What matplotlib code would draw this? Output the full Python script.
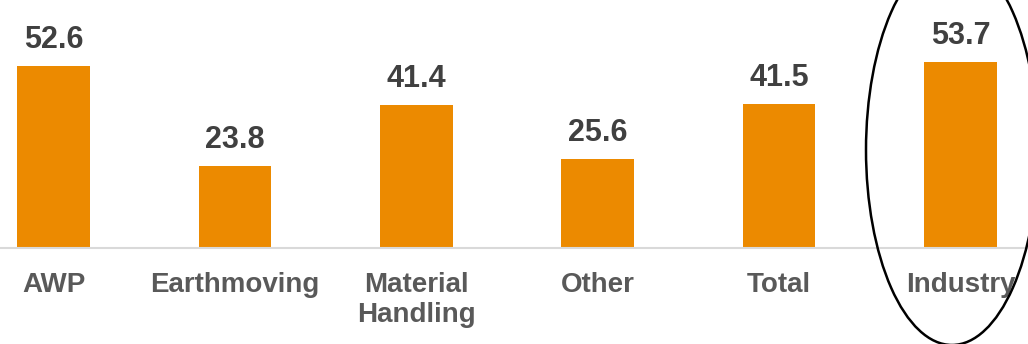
import matplotlib
matplotlib.use("Agg")
import matplotlib.pyplot as plt
from matplotlib.patches import Ellipse

categories = ["AWP", "Earthmoving", "Material\nHandling", "Other", "Total", "Industry"]
values = [52.6, 23.8, 41.4, 25.6, 41.5, 53.7]

plt.rcParams["font.family"] = ["Liberation Sans", "DejaVu Sans"]

fig = plt.figure(figsize=(10.28, 3.44), dpi=100)
ax = fig.add_axes([0.0, 96 / 344, 1.0, 248 / 344])

x = list(range(len(categories)))
bars = ax.bar(x, values, width=0.40, color="#EC8A00", zorder=2)

for xi, v in zip(x, values):
    ax.annotate(f"{v:.1f}", (xi, v), xytext=(0, 8), textcoords="offset points",
                ha="center", va="bottom", fontsize=22, fontweight="bold",
                color="#404040")

ax.set_xlim(-0.295, 5.372)
ax.set_ylim(0, 71.7)
ax.set_yticks([])
ax.set_xticks(x)
ax.set_xticklabels(categories, fontsize=20, fontweight="bold", color="#595959",
                   linespacing=1.2, va="top")
ax.tick_params(axis="x", length=0, pad=17)
for side in ("left", "right", "top"):
    ax.spines[side].set_visible(False)
ax.spines["bottom"].set_color("#D9D9D9")
ax.spines["bottom"].set_linewidth(1.5)

# outline around the Industry column
ring = Ellipse((952 / 1028, 1 - 150 / 344), 172 / 1028, 390 / 344,
               transform=fig.transFigure, fill=False, edgecolor="black",
               linewidth=1.8, clip_on=False)
fig.add_artist(ring)

fig.savefig("out.png", dpi=100)
